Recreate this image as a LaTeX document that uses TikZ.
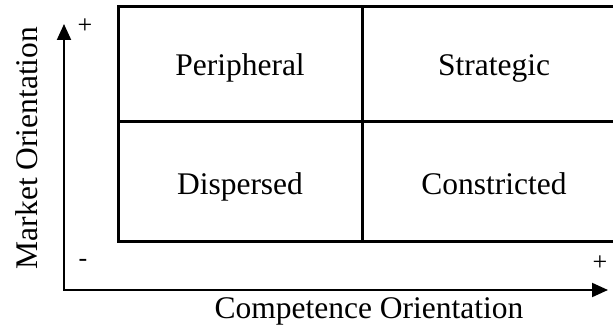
\documentclass[tikz,border=0pt]{standalone}
\usepackage{fontspec}
\setmainfont{Liberation Serif}
\usetikzlibrary{arrows.meta}
\begin{document}
\begin{tikzpicture}[x=1pt,y=-1pt,
  cell/.style={font=\fontsize{31.5}{36}\selectfont, anchor=base},
  axislabel/.style={font=\fontsize{31.5}{36}\selectfont, anchor=base},
  sign/.style={font=\fontsize{26}{30}\selectfont, anchor=center},
  boxline/.style={line width=3pt},
  axisline/.style={line width=2pt, {Triangle[length=16pt,width=14pt]}-{Triangle[length=16pt,width=14pt]}}]
\useasboundingbox (0,0) rectangle (613,328);
\coordinate (tl) at (118,7);
\coordinate (br) at (626,242);
\draw[boxline] (tl) rectangle (br);
\coordinate (mt) at (362,7);
\coordinate (mb) at (362,242);
\coordinate (ml) at (118,122);
\coordinate (mr) at (626,122);
\draw[boxline] (mt) -- (mb);
\draw[boxline] (ml) -- (mr);
\node[cell] (per) at (240,76) {Peripheral};
\node[cell] (str) at (494,76) {Strategic};
\node[cell] (dis) at (240,195) {Dispersed};
\node[cell] (con) at (494,195) {Constricted};
\coordinate (ytip) at (64,24);
\coordinate (orig) at (64,290);
\coordinate (xtip) at (608,290);
\draw[axisline] (ytip) -- (orig) -- (xtip);
\node[sign] (plusy) at (85,26) {+};
\node[sign] (minus) at (83,263) {-};
\node[sign] (plusx) at (600,263) {+};
\node[axislabel, rotate=90] (ylab) at (37,148) {Market Orientation};
\node[axislabel] (xlab) at (369,319) {Competence Orientation};
\end{tikzpicture}
\end{document}
